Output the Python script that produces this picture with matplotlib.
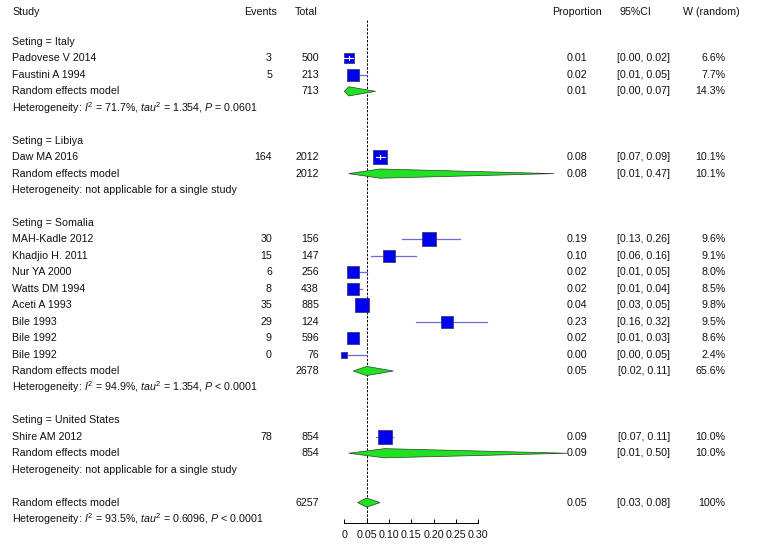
import numpy as np
import matplotlib
matplotlib.use("Agg")
import matplotlib.pyplot as plt
import matplotlib.transforms as mtransforms

plt.rcParams["font.family"] = ["Liberation Sans", "DejaVu Sans"]
plt.rcParams["font.size"] = 7.7
plt.rcParams["mathtext.fontset"] = "custom"
plt.rcParams["mathtext.rm"] = "Liberation Sans"
plt.rcParams["mathtext.it"] = "Liberation Sans:italic"

# --- data -----------------------------------------------------------------
groups = ["Italy", "Libiya", "Somalia", "United States"]

studies = ["Padovese V 2014", "Faustini A 1994", "Daw MA 2016", "MAH-Kadle 2012",
           "Khadjio H. 2011", "Nur YA 2000", "Watts DM 1994", "Aceti A 1993",
           "Bile 1993", "Bile 1992", "Bile 1992", "Shire AM 2012"]
study_group = ["Italy", "Italy", "Libiya", "Somalia", "Somalia", "Somalia", "Somalia",
               "Somalia", "Somalia", "Somalia", "Somalia", "United States"]
events = [3, 5, 164, 30, 15, 6, 8, 35, 29, 9, 0, 78]
totals = [500, 213, 2012, 156, 147, 256, 438, 885, 124, 596, 76, 854]
prop = [0.01, 0.02, 0.08, 0.19, 0.10, 0.02, 0.02, 0.04, 0.23, 0.02, 0.00, 0.09]
lower = [0.00, 0.01, 0.07, 0.13, 0.06, 0.01, 0.01, 0.03, 0.16, 0.01, 0.00, 0.07]
upper = [0.02, 0.05, 0.09, 0.26, 0.16, 0.05, 0.04, 0.05, 0.32, 0.03, 0.05, 0.11]
weights = [6.6, 7.7, 10.1, 9.6, 9.1, 8.0, 8.5, 9.8, 9.5, 8.6, 2.4, 10.0]

group_total = [713, 2012, 2678, 854]
group_prop = [0.01, 0.08, 0.05, 0.09]
group_lower = [0.00, 0.01, 0.02, 0.01]
group_upper = [0.07, 0.47, 0.11, 0.50]
group_weight = ["14.3%", "10.1%", "65.6%", "10.0%"]
group_het = [r"Heterogeneity: $I^2$ = 71.7%, $tau^2$ = 1.354, $P$ = 0.0601",
             "Heterogeneity: not applicable for a single study",
             r"Heterogeneity: $I^2$ = 94.9%, $tau^2$ = 1.354, $P$ < 0.0001",
             "Heterogeneity: not applicable for a single study"]

overall_total = 6257
overall_prop, overall_lower, overall_upper = 0.05, 0.03, 0.08
overall_het = r"Heterogeneity: $I^2$ = 93.5%, $tau^2$ = 0.6096, $P$ < 0.0001"

xticks = [0, 0.05, 0.10, 0.15, 0.20, 0.25, 0.30]
xticklabels = ["0", "0.05", "0.10", "0.15", "0.20", "0.25", "0.30"]

# studies whose CI sits inside the square (drawn in white)
ci_inside = ["Padovese V 2014", "Daw MA 2016"]

# --- layout ---------------------------------------------------------------
W, H = 758, 545
row_px, row0_px = 16.45, 42.0
x0_px, unit_px = 344.3, 446.7

fig = plt.figure(figsize=(W / 100, H / 100), dpi=100)
ax = fig.add_axes([0, 0, 1, 1])
ax.set_xlim(-x0_px / unit_px, (W - x0_px) / unit_px)
ax.set_ylim((H - row0_px) / row_px, -row0_px / row_px)
for s in ["top", "left", "right"]:
    ax.spines[s].set_visible(False)
ax.patch.set_visible(False)

trans = mtransforms.blended_transform_factory(fig.dpi_scale_trans, ax.transData)


def txt(xpx, row, s, ha="left"):
    ax.text(xpx / 100, row, s, transform=trans, ha=ha, va="center", color="#111111")


col_events, col_total = 272, 319
col_prop, col_ci, col_w = 576.6, 670, 725.5

hdr = -1.82
txt(12, hdr, "Study")
txt(277, hdr, "Events", "right")
txt(318, hdr, "Total", "right")
txt(576.6, hdr, "Proportion", "center")
txt(635.5, hdr, "95%CI", "center")
txt(683, hdr, "W (random)")


def diamond(row, est, lo, hi):
    h = 0.28
    ax.fill([lo, est, hi, est], [row, row - h, row, row + h],
            facecolor="#22e022", edgecolor="#2a402a", linewidth=0.5, zorder=3)


def fmt_ci(lo, hi):
    return f"[{lo:.2f}, {hi:.2f}]"


row = 0
for g, grp in enumerate(groups):
    txt(12, row, f"Seting = {grp}")
    row += 1
    for i, name in enumerate(studies):
        if study_group[i] != grp:
            continue
        txt(12, row, name)
        txt(col_events, row, str(events[i]), "right")
        txt(col_total, row, str(totals[i]), "right")
        txt(col_prop, row, f"{prop[i]:.2f}", "center")
        txt(col_ci, row, fmt_ci(lower[i], upper[i]), "right")
        txt(col_w, row, f"{weights[i]:.1f}%", "right")
        ax.plot([lower[i], upper[i]], [row, row], color="#6c6cdc", lw=0.9, zorder=2)
        side = 4.2 * np.sqrt(weights[i])
        ax.plot(prop[i], row, marker="s", ms=side * 0.72, mfc="#0000f0",
                mec="#3a3a7a", mew=0.6, zorder=3)
        if name in ci_inside:
            ax.plot([lower[i], upper[i]], [row, row], color="white", lw=0.8, zorder=4)
            ax.plot([prop[i], prop[i]], [row - 0.12, row + 0.12], color="white",
                    lw=0.8, zorder=4)
        row += 1
    txt(12, row, "Random effects model")
    txt(col_total, row, str(group_total[g]), "right")
    txt(col_prop, row, f"{group_prop[g]:.2f}", "center")
    txt(col_ci, row, fmt_ci(group_lower[g], group_upper[g]), "right")
    txt(col_w, row, group_weight[g], "right")
    diamond(row, group_prop[g], group_lower[g], group_upper[g])
    row += 1
    txt(12, row, group_het[g])
    row += 2

txt(12, row, "Random effects model")
txt(col_total, row, str(overall_total), "right")
txt(col_prop, row, f"{overall_prop:.2f}", "center")
txt(col_ci, row, fmt_ci(overall_lower, overall_upper), "right")
txt(col_w, row, "100%", "right")
diamond(row, overall_prop, overall_lower, overall_upper)
txt(12, row + 1, overall_het)

axis_row = (523 - row0_px) / row_px
ax.plot([overall_prop, overall_prop], [-1.34, axis_row], color="black",
        lw=0.7, ls=(0, (2.5, 1.5)), zorder=1)

ax.spines["bottom"].set_position(("data", axis_row))
ax.spines["bottom"].set_bounds(xticks[0], xticks[-1])
ax.spines["bottom"].set_linewidth(0.7)
ax.set_xticks(xticks)
ax.set_xticklabels(xticklabels)
ax.tick_params(axis="x", direction="in", length=3, width=0.7, pad=5, labelcolor="#111111")
ax.set_yticks([])

fig.savefig("out.png", dpi=100)
